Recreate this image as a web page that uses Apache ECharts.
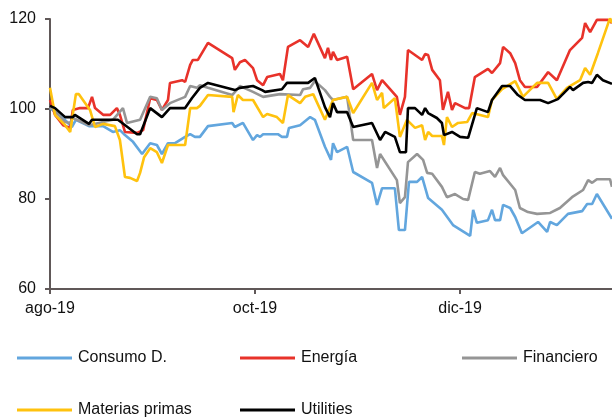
<!DOCTYPE html>
<html>
<head>
<meta charset="utf-8">
<script src="https://cdn.jsdelivr.net/npm/echarts@6/dist/echarts.min.js"></script>
<style>
  html, body { margin: 0; padding: 0; background: #ffffff; }
  #chart { width: 612px; height: 419px; }
</style>
</head>
<body>
<div id="chart"></div>
<script>
// Sector indices, base 100. X values are days counted from 1 Aug 2019.
const seriesNames = ['Consumo D.', 'Energía', 'Financiero', 'Materias primas', 'Utilities'];
const monthNames = ['ene', 'feb', 'mar', 'abr', 'may', 'jun', 'jul', 'ago', 'sep', 'oct', 'nov', 'dic'];
const yTicks = [60, 80, 100, 120];

const consumoDays = [0, 2.1, 5.1, 6.5, 7.7, 11.6, 15.8, 18.7, 20.8, 22.3, 24.7, 27.4, 29.8, 31.8, 33.3, 35.1, 37.2, 40.2, 41.7, 43.1, 44.6, 47.0, 54.2, 55.0, 57.4, 60.4, 61.6, 62.5, 63.4, 67.8, 69.0, 70.5, 71.1, 74.4, 77.4, 78.8, 81.8, 83.6, 84.2, 85.4, 88.4, 90.2, 95.8, 97.3, 98.8, 102.6, 103.8, 105.6, 106.8, 109.2, 110.7, 112.5, 116.6, 119.9, 125.0, 125.9, 127.0, 130.3, 131.5, 132.4, 133.9, 134.8, 136.9, 138.4, 140.4, 145.2, 147.9, 148.8, 150.8, 154.1, 158.3, 159.8, 161.3, 162.7, 167.2];
const consumoValues = [100.2, 99.1, 97.1, 96.0, 97.6, 96.2, 96.2, 94.9, 95.3, 94.2, 92.7, 90.0, 92.4, 92.0, 90.0, 92.4, 92.4, 93.8, 94.4, 93.8, 93.8, 96.2, 96.9, 96.0, 96.9, 93.1, 94.2, 93.8, 94.4, 94.4, 93.8, 93.8, 95.8, 96.4, 98.2, 97.6, 91.6, 88.7, 92.4, 90.4, 91.6, 86.0, 83.6, 78.7, 82.4, 82.4, 73.1, 73.1, 83.8, 83.8, 84.9, 80.2, 77.6, 74.2, 71.8, 77.6, 74.7, 75.3, 77.6, 75.3, 75.3, 78.7, 78.0, 76.0, 72.4, 74.9, 72.7, 74.9, 74.2, 76.7, 77.3, 78.9, 78.9, 81.1, 75.6];

const energiaDays = [0, 1.5, 3.9, 6.0, 6.8, 8.9, 11.3, 12.5, 13.4, 15.8, 17.9, 19.9, 20.8, 22.3, 25.9, 27.7, 29.8, 31.8, 33.3, 35.1, 35.7, 39.3, 40.2, 41.7, 42.5, 44.0, 47.0, 54.2, 55.0, 56.5, 58.0, 60.4, 61.6, 63.4, 64.6, 68.4, 69.3, 70.8, 74.4, 76.8, 78.5, 81.8, 82.7, 83.6, 84.2, 85.4, 88.4, 90.2, 95.8, 97.3, 98.8, 103.2, 104.1, 105.6, 106.5, 110.7, 111.6, 112.5, 113.7, 116.0, 116.9, 118.4, 119.6, 120.5, 123.5, 124.7, 126.4, 130.3, 131.5, 133.9, 134.8, 136.9, 138.4, 139.8, 141.3, 144.9, 148.2, 150.8, 154.7, 158.3, 159.2, 160.7, 162.7, 166.0, 167.2];
const energiaValues = [102.0, 98.7, 96.4, 95.8, 99.8, 100.2, 100.2, 102.7, 100.2, 98.7, 98.7, 100.2, 98.7, 94.9, 94.7, 95.3, 102.4, 102.0, 99.8, 102.0, 105.8, 106.4, 106.0, 109.8, 110.9, 110.9, 114.7, 111.3, 108.7, 110.4, 110.9, 109.1, 106.4, 105.3, 107.1, 107.8, 106.4, 113.8, 115.3, 113.8, 116.7, 111.3, 113.6, 110.9, 112.7, 110.9, 111.6, 104.4, 107.8, 104.2, 106.4, 102.7, 98.7, 102.7, 113.1, 110.9, 112.2, 112.0, 108.7, 106.4, 99.8, 103.8, 99.8, 101.3, 100.2, 100.2, 107.1, 108.9, 108.0, 110.2, 113.8, 112.4, 110.2, 106.4, 104.9, 104.9, 108.2, 106.4, 113.1, 115.8, 119.1, 117.1, 119.8, 119.8, 119.1];

const financieroDays = [0, 2.1, 4.5, 6.0, 6.8, 11.6, 18.7, 21.7, 22.9, 26.8, 29.8, 31.8, 33.3, 35.7, 40.2, 41.7, 43.7, 44.6, 47.0, 54.2, 56.5, 60.4, 63.4, 68.4, 74.4, 75.3, 77.4, 78.8, 81.8, 83.3, 84.2, 85.4, 88.4, 90.2, 95.8, 97.3, 98.2, 103.2, 104.1, 105.6, 106.5, 109.2, 111.0, 112.2, 113.7, 116.6, 118.1, 120.5, 122.9, 124.4, 126.4, 127.9, 130.9, 132.4, 133.9, 134.8, 138.4, 139.8, 142.2, 144.9, 148.8, 151.7, 155.3, 158.6, 160.1, 161.3, 162.7, 166.6, 167.2];
const financieroValues = [100.4, 99.1, 97.1, 96.9, 98.0, 96.4, 97.6, 100.2, 96.9, 97.6, 102.7, 102.4, 99.8, 101.3, 102.7, 105.1, 104.7, 105.3, 104.7, 103.1, 105.1, 103.8, 102.7, 103.3, 103.1, 104.4, 104.7, 106.2, 104.2, 102.7, 102.0, 102.2, 102.7, 93.1, 93.1, 86.9, 90.0, 84.2, 79.1, 80.4, 88.2, 90.0, 88.7, 85.8, 85.6, 82.7, 80.4, 81.1, 80.0, 79.8, 86.0, 85.6, 86.2, 84.9, 86.9, 85.3, 82.0, 78.0, 77.1, 76.7, 76.9, 78.0, 80.4, 82.0, 84.2, 83.6, 84.4, 84.4, 82.7];

const materiasDays = [0, 1.5, 4.5, 6.0, 7.7, 8.6, 11.9, 13.4, 15.8, 19.3, 20.8, 22.3, 23.8, 25.9, 26.8, 28.0, 29.8, 31.8, 33.3, 35.1, 40.2, 41.7, 43.7, 44.6, 47.0, 54.2, 54.6, 55.9, 57.4, 60.4, 63.4, 64.6, 67.5, 69.3, 70.8, 74.4, 75.9, 78.3, 81.8, 84.2, 88.4, 90.2, 95.8, 97.3, 98.8, 99.3, 102.6, 104.1, 106.2, 108.6, 110.7, 111.6, 112.5, 113.7, 116.6, 117.2, 118.1, 119.6, 121.4, 124.1, 125.6, 130.3, 131.5, 134.5, 138.4, 140.7, 144.9, 148.2, 150.8, 153.8, 157.7, 159.2, 160.7, 163.0, 166.6, 167.2];
const materiasValues = [104.7, 98.7, 96.4, 94.9, 103.3, 103.3, 99.8, 96.0, 96.7, 96.2, 93.1, 84.9, 84.7, 84.0, 85.8, 89.3, 91.3, 90.4, 88.0, 92.0, 92.0, 100.2, 100.2, 100.7, 103.1, 102.7, 99.3, 103.1, 102.0, 102.0, 98.2, 98.9, 98.2, 96.9, 103.1, 101.3, 102.7, 103.3, 97.6, 102.0, 102.7, 99.1, 105.8, 102.0, 103.6, 100.2, 102.4, 93.8, 97.6, 95.8, 96.4, 93.1, 94.9, 94.0, 94.0, 92.0, 98.2, 96.0, 96.9, 97.1, 99.1, 98.2, 102.0, 104.4, 106.2, 102.7, 105.8, 105.8, 102.2, 104.7, 106.4, 109.1, 107.6, 112.4, 120.2, 119.1];

const utilitiesDays = [0, 1.5, 4.5, 6.8, 7.4, 11.6, 12.5, 20.2, 25.9, 26.8, 29.8, 33.3, 35.7, 40.2, 42.2, 44.6, 47.0, 55.0, 56.5, 60.4, 63.1, 64.0, 69.0, 70.5, 76.8, 78.8, 81.8, 83.3, 84.2, 85.4, 88.4, 90.2, 95.8, 98.2, 99.7, 102.6, 104.1, 105.9, 106.5, 108.6, 110.7, 111.6, 112.5, 115.1, 116.6, 117.2, 119.6, 122.0, 124.4, 127.0, 130.3, 131.5, 134.5, 136.9, 139.2, 141.3, 145.8, 148.2, 151.1, 154.7, 155.6, 158.6, 160.1, 161.3, 162.7, 164.5, 167.2];
const utilitiesValues = [100.7, 100.2, 98.2, 98.2, 98.7, 96.7, 97.6, 97.6, 94.4, 94.4, 100.2, 98.2, 100.2, 100.2, 102.4, 104.7, 105.8, 104.2, 104.7, 105.1, 104.2, 103.8, 104.4, 105.8, 105.8, 106.9, 100.4, 98.2, 101.3, 99.3, 99.3, 96.0, 96.9, 93.1, 94.9, 93.8, 90.4, 90.4, 100.2, 100.2, 98.7, 100.2, 99.1, 98.0, 96.9, 94.2, 94.9, 93.8, 93.6, 100.2, 99.3, 102.0, 105.1, 105.1, 103.1, 102.0, 102.0, 101.3, 102.2, 104.9, 104.2, 105.8, 106.0, 105.8, 107.6, 106.4, 105.6];

const seriesColors = ['#62a6de', '#e8322a', '#959595', '#ffc20e', '#000000'];

const zip = (xs, ys) => xs.map((x, i) => [x, ys[i]]);
const seriesData = [
  zip(consumoDays, consumoValues),
  zip(energiaDays, energiaValues),
  zip(financieroDays, financieroValues),
  zip(materiasDays, materiasValues),
  zip(utilitiesDays, utilitiesValues)
];

const FONT = '"Liberation Sans", Arial, sans-serif';
const AXIS_COLOR = '#605858';

// Day offset -> "mmm-yy" label
function dayLabel(v) {
  if (Math.abs(v % 61) > 0.01) return '';
  const d = new Date(2019, 7, 1 + Math.round(v));
  return monthNames[d.getMonth()] + '-' + String(d.getFullYear()).slice(2);
}

// One legend block per entry, laid out in two rows
const legendSlots = [
  { left: 17, top: 350 },
  { left: 240, top: 350 },
  { left: 462, top: 350 },
  { left: 17, top: 402 },
  { left: 240, top: 402 }
];

const chart = echarts.init(document.getElementById('chart'), null, { renderer: 'canvas' });
chart.setOption({
  animation: false,
  backgroundColor: '#ffffff',
  grid: { left: 50, right: 0, top: 19, bottom: 130, containLabel: false },
  xAxis: {
    type: 'value',
    min: 0,
    max: 167.2,
    interval: 61,
    axisLine: { show: true, lineStyle: { color: AXIS_COLOR, width: 2 } },
    axisTick: { show: true, length: 5, lineStyle: { color: AXIS_COLOR, width: 2 } },
    splitLine: { show: false },
    axisLabel: {
      showMaxLabel: false,
      margin: 12,
      color: '#111111',
      fontFamily: FONT,
      fontSize: 16,
      formatter: dayLabel
    }
  },
  yAxis: {
    type: 'value',
    min: yTicks[0],
    max: yTicks[yTicks.length - 1],
    interval: 20,
    axisLine: { show: true, lineStyle: { color: AXIS_COLOR, width: 2 } },
    axisTick: { show: true, length: 5, lineStyle: { color: AXIS_COLOR, width: 2 } },
    splitLine: { show: false },
    axisLabel: {
      margin: 14,
      color: '#111111',
      fontFamily: FONT,
      fontSize: 16
    }
  },
  legend: legendSlots.map((slot, i) => ({
    data: [seriesNames[i]],
    left: slot.left,
    top: slot.top,
    padding: 0,
    icon: 'rect',
    itemWidth: 55,
    itemHeight: 3,
    itemGap: 0,
    textStyle: { color: '#111111', fontFamily: FONT, fontSize: 16, padding: [0, 0, 0, 1] }
  })),
  series: seriesNames.map((name, i) => ({
    name: name,
    type: 'line',
    data: seriesData[i],
    showSymbol: false,
    symbol: 'none',
    smooth: false,
    color: seriesColors[i],
    lineStyle: { color: seriesColors[i], width: 2.6 },
    z: 2 + i
  }))
});
</script>
</body>
</html>
